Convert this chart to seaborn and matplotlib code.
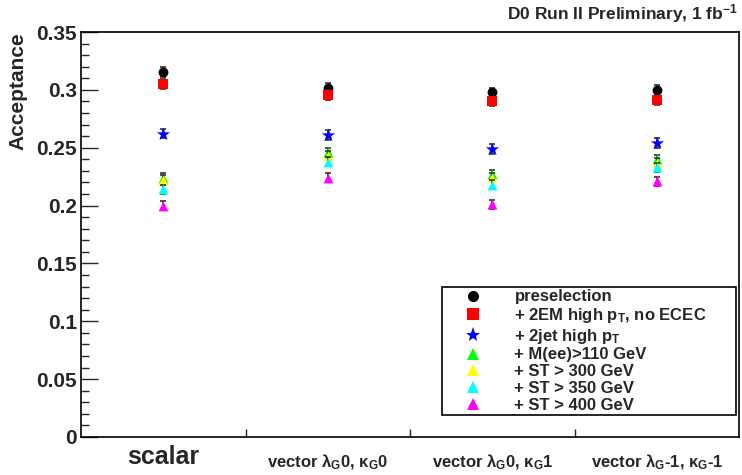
import matplotlib
matplotlib.use("Agg")
import matplotlib.pyplot as plt
from matplotlib import font_manager
from matplotlib.lines import Line2D
from matplotlib.ticker import MultipleLocator, FixedLocator, NullFormatter
import seaborn as sns
import pandas as pd


def pick_family():
    for fam in ["Liberation Sans Narrow", "Liberation Sans", "Arial"]:
        try:
            font_manager.findfont(font_manager.FontProperties(family=fam, weight="bold"),
                                  fallback_to_default=False)
            return fam
        except Exception:
            pass
    return "DejaVu Sans"


# ---------------- data ----------------
categories = ["scalar",
              r"vector $\lambda_G$0, $\kappa_G$0",
              r"vector $\lambda_G$0, $\kappa_G$1",
              r"vector $\lambda_G$-1, $\kappa_G$-1"]

series_labels = ["preselection",
                 r"+ 2EM high p$_T$, no ECEC",
                 r"+ 2jet high p$_T$",
                 "+ M(ee)>110 GeV",
                 "+ ST > 300 GeV",
                 "+ ST > 350 GeV",
                 "+ ST > 400 GeV"]

preselection = [0.3155, 0.302, 0.298, 0.300]
em_high_pt = [0.305, 0.2955, 0.290, 0.291]
jet_high_pt = [0.262, 0.261, 0.249, 0.254]
mee_110 = [0.224, 0.246, 0.227, 0.240]
st_300 = [0.222, 0.243, 0.224, 0.237]
st_350 = [0.214, 0.238, 0.218, 0.233]
st_400 = [0.200, 0.224, 0.201, 0.221]

err_preselection = [0.004, 0.004, 0.004, 0.004]
err_em_high_pt = [0.004, 0.004, 0.004, 0.004]
err_jet_high_pt = [0.004, 0.004, 0.004, 0.004]
err_mee_110 = [0.004, 0.004, 0.004, 0.004]
err_st_300 = [0.004, 0.004, 0.004, 0.004]
err_st_350 = [0.004, 0.004, 0.004, 0.004]
err_st_400 = [0.004, 0.004, 0.004, 0.004]

series_values = [preselection, em_high_pt, jet_high_pt, mee_110, st_300, st_350, st_400]
series_errors = [err_preselection, err_em_high_pt, err_jet_high_pt, err_mee_110,
                 err_st_300, err_st_350, err_st_400]

colors = ["#000000", "#ff0000", "#0000ff", "#00ff00", "#ffff00", "#00ffff", "#ff00ff"]
markers = ["o", "s", "*", "^", "^", "^", "^"]
sizes = [50, 50, 100, 50, 50, 50, 50]

# ---------------- style ----------------
sns.set_style("ticks")
fam = pick_family()
plt.rcParams["font.family"] = [fam, "DejaVu Sans"]
plt.rcParams["font.weight"] = "bold"
plt.rcParams["mathtext.fontset"] = "custom"
for k in ["rm", "it", "bf", "sf"]:
    plt.rcParams["mathtext." + k] = fam + ":bold"

rows = []
for s_i, (lab, vals, errs) in enumerate(zip(series_labels, series_values, series_errors)):
    for c_i, (v, e) in enumerate(zip(vals, errs)):
        rows.append({"series": lab, "pos": c_i, "value": v, "err": e})
df = pd.DataFrame(rows)

fig = plt.figure(figsize=(7.42, 4.75), dpi=100)
ax = fig.add_axes([81 / 742, 1 - 437 / 475, (739 - 81) / 742, (437 - 32) / 475])

for s_i, lab in enumerate(series_labels):
    sub = df[df["series"] == lab]
    ax.errorbar(sub["pos"], sub["value"], yerr=sub["err"], fmt="none",
                ecolor="#333333", elinewidth=1.2, capsize=2.5, capthick=1.2, zorder=2 + s_i * 2)
    sns.scatterplot(data=sub, x="pos", y="value", color=colors[s_i], marker=markers[s_i],
                    s=sizes[s_i], linewidth=0, ax=ax, legend=False, zorder=3 + s_i * 2)

ax.set_xlim(-0.5, len(categories) - 0.5)
ax.set_ylim(0, 0.35)

# y axis
ax.yaxis.set_major_locator(MultipleLocator(0.05))
ax.yaxis.set_minor_locator(MultipleLocator(0.01))
ax.set_yticklabels([("0" if abs(t) < 1e-9 else f"{t:g}") for t in ax.get_yticks()])
ax.tick_params(axis="y", which="major", direction="in", length=12, width=1,
               labelsize=15, pad=3, right=False)
ax.tick_params(axis="y", which="minor", direction="in", length=6, width=1, right=False)
for lbl in ax.get_yticklabels():
    lbl.set_fontweight("bold")

# x axis
ax.xaxis.set_major_locator(FixedLocator(range(len(categories))))
ax.set_xticklabels(categories)
ax.xaxis.set_minor_locator(FixedLocator([i + 0.5 for i in range(len(categories) - 1)]))
ax.xaxis.set_minor_formatter(NullFormatter())
ax.tick_params(axis="x", which="major", length=0, pad=8)
ax.tick_params(axis="x", which="minor", direction="in", length=6, width=1, top=False)
for i, lbl in enumerate(ax.get_xticklabels()):
    lbl.set_fontweight("bold")
    if i == 0:
        lbl.set_fontsize(18)
        lbl.set_y(0.008)
    else:
        lbl.set_fontsize(12)
        lbl.set_y(-0.012)
        lbl.set_va("top")

ax.set_xlabel("")
ax.set_ylabel("Acceptance", fontsize=15, fontweight="bold", loc="top", labelpad=6)

for sp in ax.spines.values():
    sp.set_visible(True)
    sp.set_linewidth(1.2)
    sp.set_color("black")

fig.text(0.995, 0.995, r"D0 Run II Preliminary, 1 fb$^{-1}$", ha="right", va="top",
         fontsize=12.5, fontweight="bold")

handles = [Line2D([], [], linestyle="none", marker=markers[i], color=colors[i],
                  markersize=(11 if markers[i] == "*" else 8), markeredgewidth=0)
           for i in range(len(series_labels))]
leg = ax.legend(handles, series_labels, loc="lower left",
                bbox_to_anchor=((442 - 81) / 658, (437 - 415) / 405, (736 - 442) / 658, 0.3),
                mode="expand", fancybox=False, framealpha=1, edgecolor="black",
                prop={"weight": "bold", "size": 12}, labelspacing=0.1,
                handletextpad=0.8, borderpad=0.15, handlelength=3.4, borderaxespad=0)
leg.get_frame().set_linewidth(1.2)

fig.savefig("out.png", dpi=100, facecolor="white")
